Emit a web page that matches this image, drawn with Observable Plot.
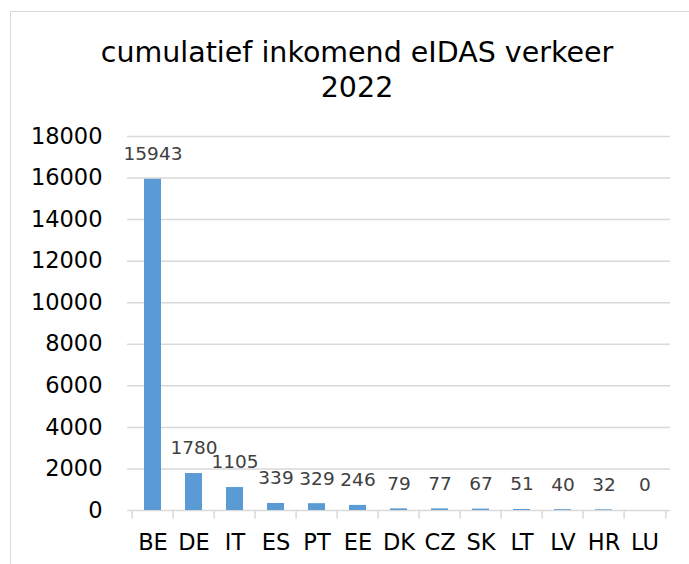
<!DOCTYPE html>
<html>
<head>
<meta charset="utf-8">
<script src="https://cdn.jsdelivr.net/npm/d3@7"></script>
<script src="https://cdn.jsdelivr.net/npm/@observablehq/plot@0.6"></script>
<style>
  html, body { margin: 0; padding: 0; background: #fff; }
  #wrap { position: relative; width: 689px; height: 564px; overflow: hidden; }
  #frame { position: absolute; left: 10px; top: 11px; width: 700px; height: 600px;
           border-top: 1.5px solid #d9d9d9; border-left: 1.5px solid #d9d9d9; pointer-events: none; }
  #title { position: absolute; left: 0; top: 35px; width: 714px; text-align: center;
           font-family: "DejaVu Sans", sans-serif; font-size: 28.5px; line-height: 35px; color: #000; }
  #chart { position: absolute; left: 0; top: 0; }
</style>
</head>
<body>
<div id="wrap">
  <div id="frame"></div>
  <div id="chart"></div>
  <div id="title">cumulatief inkomend eIDAS verkeer<br>2022</div>
</div>
<script>
const countries = ["BE", "DE", "IT", "ES", "PT", "EE", "DK", "CZ", "SK", "LT", "LV", "HR", "LU"];
const values = [15943, 1780, 1105, 339, 329, 246, 79, 77, 67, 51, 40, 32, 0];
const yTicks = [0, 2000, 4000, 6000, 8000, 10000, 12000, 14000, 16000, 18000];

const data = countries.map((c, i) => ({country: c, value: values[i]}));
const gray = "#d9d9d9";

const W = 689, H = 564, mL = 127, mR = 19, mT = 136, mB = 54;
const step = (W - mL - mR) / countries.length;
const lastCountry = countries[countries.length - 1];

const chart = Plot.plot({
  width: W,
  height: H,
  marginLeft: mL,
  marginRight: mR,
  marginTop: mT,
  marginBottom: mB,
  style: { fontFamily: "DejaVu Sans, sans-serif", background: "transparent" },
  x: { domain: countries, paddingInner: 0.583, paddingOuter: 0.2915, label: null },
  y: { domain: [0, 18000], label: null },
  marks: [
    Plot.gridY(yTicks, { stroke: gray, strokeOpacity: 1, strokeWidth: 1.5 }),
    Plot.barY(data, { x: "country", y: "value", fill: "#5b9bd5" }),
    // category boundary ticks below the baseline
    Plot.ruleX(countries, { x: d => d, dx: -step / 2, y1: 0, y2: -420, stroke: gray, strokeWidth: 1.5 }),
    Plot.ruleX([lastCountry], { x: d => d, dx: step / 2, y1: 0, y2: -420, stroke: gray, strokeWidth: 1.5 }),
    Plot.text(data, { x: "country", y: "value", text: d => String(d.value), dy: -25,
      fontSize: 18.5, fill: "#404040", fontFamily: "DejaVu Sans, sans-serif" }),
    Plot.axisY({ ticks: yTicks, tickSize: 0, tickPadding: 25, tickFormat: d3.format("d"),
      fontSize: 22.5, fill: "#000", label: null }),
    Plot.axisX({ tickSize: 0, tickPadding: 24, fontSize: 22.5, fill: "#000", label: null })
  ]
});
document.getElementById("chart").appendChild(chart);
</script>
</body>
</html>
